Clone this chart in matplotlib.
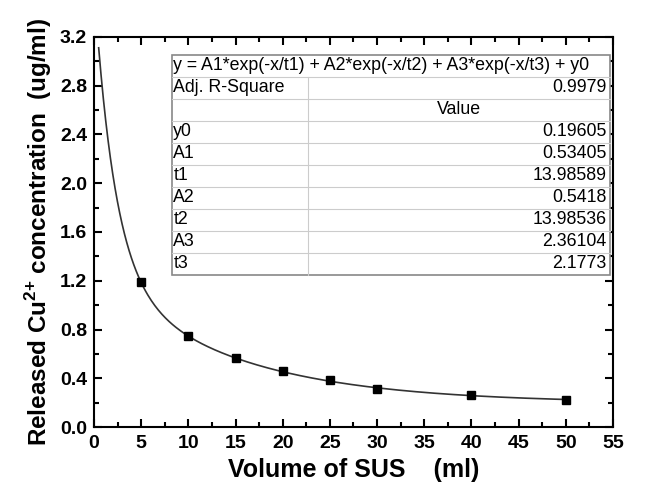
import numpy as np
import matplotlib.pyplot as plt
from matplotlib.ticker import MultipleLocator

plt.rcParams['font.family'] = ['Liberation Sans', 'DejaVu Sans']
plt.rcParams['mathtext.fontset'] = 'custom'
plt.rcParams['mathtext.rm'] = 'Liberation Sans'
plt.rcParams['mathtext.bf'] = 'Liberation Sans:bold'

# measured points
vol = [5, 10, 15, 20, 25, 30, 40, 50]
conc = [1.19, 0.75, 0.565, 0.46, 0.385, 0.31, 0.26, 0.225]

# fit parameters shown in the table
param_names = ['y0', 'A1', 't1', 'A2', 't2', 'A3', 't3']
param_vals = ['0.19605', '0.53405', '13.98589', '0.5418', '13.98536', '2.36104', '2.1773']
y0, A1, t1, A2, t2, A3, t3 = [float(v) for v in param_vals]
adj_r2 = '0.9979'
equation = 'y = A1*exp(-x/t1) + A2*exp(-x/t2) + A3*exp(-x/t3) + y0'

fig = plt.figure(figsize=(6.48, 4.92), dpi=100)
ax = fig.add_axes([0.145, 0.132, 0.801, 0.793])

xf = np.linspace(0.5, 50, 400)
yf = A1*np.exp(-xf/t1) + A2*np.exp(-xf/t2) + A3*np.exp(-xf/t3) + y0
ax.plot(xf, yf, color='#333333', lw=1.2)
ax.plot(vol, conc, 's', color='black', ms=6)

ax.set_xlim(0, 55)
ax.set_ylim(0, 3.2)
ax.xaxis.set_major_locator(MultipleLocator(5))
ax.xaxis.set_minor_locator(MultipleLocator(2.5))
ax.yaxis.set_major_locator(MultipleLocator(0.4))
ax.yaxis.set_minor_locator(MultipleLocator(0.2))
ax.tick_params(which='both', direction='in', top=True, right=True, width=1.5)
ax.tick_params(which='major', length=6, labelsize=14)
ax.tick_params(which='minor', length=3.5)
ax.tick_params(axis='x', pad=6)
ax.tick_params(axis='y', pad=5)
for lab in ax.get_xticklabels() + ax.get_yticklabels():
    lab.set_fontweight('bold')
ax.yaxis.set_major_formatter(plt.FuncFormatter(lambda v, p: f'{v:.1f}'))
for s in ax.spines.values():
    s.set_linewidth(1.5)

ax.set_xlabel('Volume of SUS    (ml)', fontsize=18, fontweight='bold', labelpad=4)
ax.set_ylabel(r'Released Cu$^{\mathbf{2{+}}}$ concentration  (ug/ml)', fontsize=17.5,
              fontweight='bold', labelpad=4)

# fit table (drawn in axes coordinates)
tx0, tx1, tdiv = 0.150, 0.994, 0.412
ttop, tbot = 0.954, 0.390
rows = [('eq', equation), ('Adj. R-Square', adj_r2), ('', 'Value')] + \
       list(zip(param_names, param_vals))
nrow = len(rows)
rh = (ttop - tbot) / nrow
tr = ax.transAxes
ax.add_patch(plt.Rectangle((tx0, tbot), tx1 - tx0, ttop - tbot, transform=tr,
                           facecolor='white', edgecolor='#888888', lw=1.2, zorder=3))
for i in range(1, nrow):
    yy = ttop - i * rh
    ax.plot([tx0, tx1], [yy, yy], transform=tr, color='#cccccc', lw=0.8, zorder=4)
ax.plot([tdiv, tdiv], [tbot, ttop - rh], transform=tr, color='#cccccc', lw=0.8, zorder=4)
fs = 12.8
for i, (name, val) in enumerate(rows):
    yc = ttop - (i + 0.5) * rh
    if name == 'eq':
        ax.text(tx0 + 0.003, yc, val, transform=tr, fontsize=fs, va='center', ha='left', zorder=5)
    elif name == '':
        ax.text((tdiv + tx1) / 2, yc, val, transform=tr, fontsize=fs, va='center', ha='center', zorder=5)
    else:
        ax.text(tx0 + 0.003, yc, name, transform=tr, fontsize=fs, va='center', ha='left', zorder=5)
        ax.text(tx1 - 0.006, yc, val, transform=tr, fontsize=fs, va='center', ha='right', zorder=5)

fig.savefig('out.png', dpi=100)
